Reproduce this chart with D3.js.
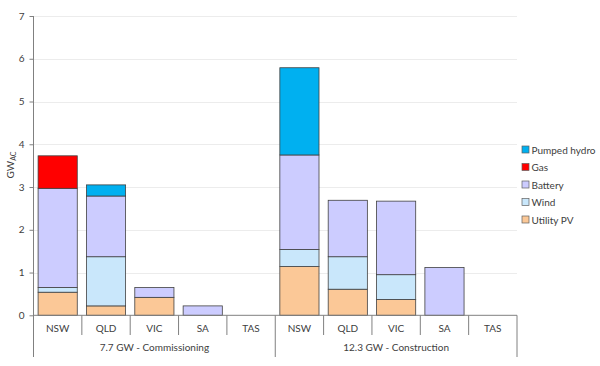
<!DOCTYPE html>
<html><head><meta charset="utf-8">
<script src="https://cdn.jsdelivr.net/npm/d3@7"></script>
<style>body{margin:0;background:#fff;}text{font-family:Lato,"Open Sans","Liberation Sans",sans-serif;fill:#404040;}</style>
</head><body><svg id="c" width="600" height="366"></svg>
<script>
const groups = ["7.7 GW - Commissioning", "12.3 GW - Construction"];
const states = ["NSW", "QLD", "VIC", "SA", "TAS"];
const seriesNames = ["Utility PV", "Wind", "Battery", "Gas", "Pumped hydro"];
const seriesColors = ["#fbc897", "#c9e7fb", "#ccccff", "#ff0000", "#00b0f0"];
// values per series, order: Commissioning NSW..TAS, Construction NSW..TAS
const utilityPV  = [0.54, 0.22, 0.42, 0, 0, 1.14, 0.61, 0.37, 0, 0];
const wind       = [0.11, 1.15, 0, 0, 0, 0.40, 0.76, 0.58, 0, 0];
const battery    = [2.32, 1.42, 0.23, 0.22, 0, 2.21, 1.32, 1.72, 1.12, 0];
const gas        = [0.76, 0, 0, 0, 0, 0, 0, 0, 0, 0];
const pumpedHydro= [0, 0.26, 0, 0, 0, 2.04, 0, 0, 0, 0];
const yTicks = [0,1,2,3,4,5,6,7];

const seriesVals = [utilityPV, wind, battery, gas, pumpedHydro];
const cats = [];
groups.forEach((g,gi)=>states.forEach((s,si)=>cats.push({key:gi+"-"+s, state:s, group:g, idx:gi*5+si})));
const table = cats.map(c=>{const o={key:c.key}; seriesNames.forEach((n,i)=>o[n]=seriesVals[i][c.idx]); return o;});

const svg = d3.select("#c");
const L=33.5, R=517, T=16, B=315.3;
const x = d3.scaleBand().domain(cats.map(c=>c.key)).range([L,R]).paddingInner(0.19).paddingOuter(0.095);
const xc = d3.scaleBand().domain(cats.map(c=>c.key)).range([L,R]);
const y = d3.scaleLinear().domain([0,7]).range([B,T]);

// gridlines
svg.append("g").selectAll("line").data(yTicks.filter(t=>t>0)).join("line")
  .attr("x1",L).attr("x2",R).attr("y1",d=>Math.round(y(d))+0.5).attr("y2",d=>Math.round(y(d))+0.5)
  .attr("stroke","#ececec").attr("stroke-width",1);

// y axis
const ya = svg.append("g").attr("transform",`translate(${L},0)`)
  .call(d3.axisLeft(y).tickValues(yTicks).tickSize(4).tickFormat(d3.format("d")));
ya.select(".domain").remove();
ya.selectAll("line").attr("stroke","#808080");
ya.selectAll("text").attr("font-size",10).attr("fill","#404040").attr("dx",-2);
svg.append("line").attr("x1",L).attr("x2",L).attr("y1",T).attr("y2",357).attr("stroke","#808080");

// stacked bars
const stack = d3.stack().keys(seriesNames)(table);
svg.append("g").selectAll("g").data(stack).join("g")
  .attr("fill",(d,i)=>seriesColors[i])
  .selectAll("rect").data(d=>d.filter(p=>p[1]-p[0]>0)).join("rect")
  .attr("x",d=>x(d.data.key)).attr("width",x.bandwidth())
  .attr("y",d=>y(d[1])).attr("height",d=>y(d[0])-y(d[1]))
  .attr("stroke","#404040").attr("stroke-width",0.8);

// x baseline
svg.append("line").attr("x1",L).attr("x2",R).attr("y1",B).attr("y2",B).attr("stroke","#808080");

// category labels
svg.append("g").selectAll("text").data(cats).join("text")
  .attr("x",d=>xc(d.key)+xc.bandwidth()/2).attr("y",332).attr("text-anchor","middle")
  .attr("font-size",10).text(d=>d.state);
// category separators
svg.append("g").selectAll("line").data(cats.filter(c=>c.idx%5!==0)).join("line")
  .attr("x1",d=>xc(d.key)).attr("x2",d=>xc(d.key)).attr("y1",B).attr("y2",335)
  .attr("stroke","#808080");
// group separators
const gEdges=[cats[5].key];
svg.append("g").selectAll("line").data(gEdges).join("line")
  .attr("x1",d=>xc(d)).attr("x2",d=>xc(d)).attr("y1",B).attr("y2",357).attr("stroke","#808080");
svg.append("line").attr("x1",R).attr("x2",R).attr("y1",B).attr("y2",357).attr("stroke","#808080");
// group labels
svg.append("g").selectAll("text").data(groups).join("text")
  .attr("x",(d,i)=>{const a=xc(cats[i*5].key), b=xc(cats[i*5+4].key)+xc.bandwidth(); return (a+b)/2;})
  .attr("y",351).attr("text-anchor","middle").attr("font-size",10).text(d=>d);

// y label
const yl = svg.append("text").attr("transform","translate(14,165) rotate(-90)").attr("text-anchor","middle").attr("font-size",10);
yl.append("tspan").text("GW");
yl.append("tspan").attr("font-size",7).attr("dy",2).text("AC");

// legend
const legOrder = [4,3,2,1,0];
const lg = svg.append("g").selectAll("g").data(legOrder).join("g")
  .attr("transform",(d,i)=>`translate(522,${150+i*17.5})`);
lg.append("rect").attr("x",0).attr("y",-4).attr("width",7).attr("height",7)
  .attr("fill",d=>seriesColors[d]).attr("stroke","#606060").attr("stroke-width",0.7);
lg.append("text").attr("x",9.5).attr("y",3.5).attr("font-size",10).text(d=>seriesNames[d]);
</script></body></html>
